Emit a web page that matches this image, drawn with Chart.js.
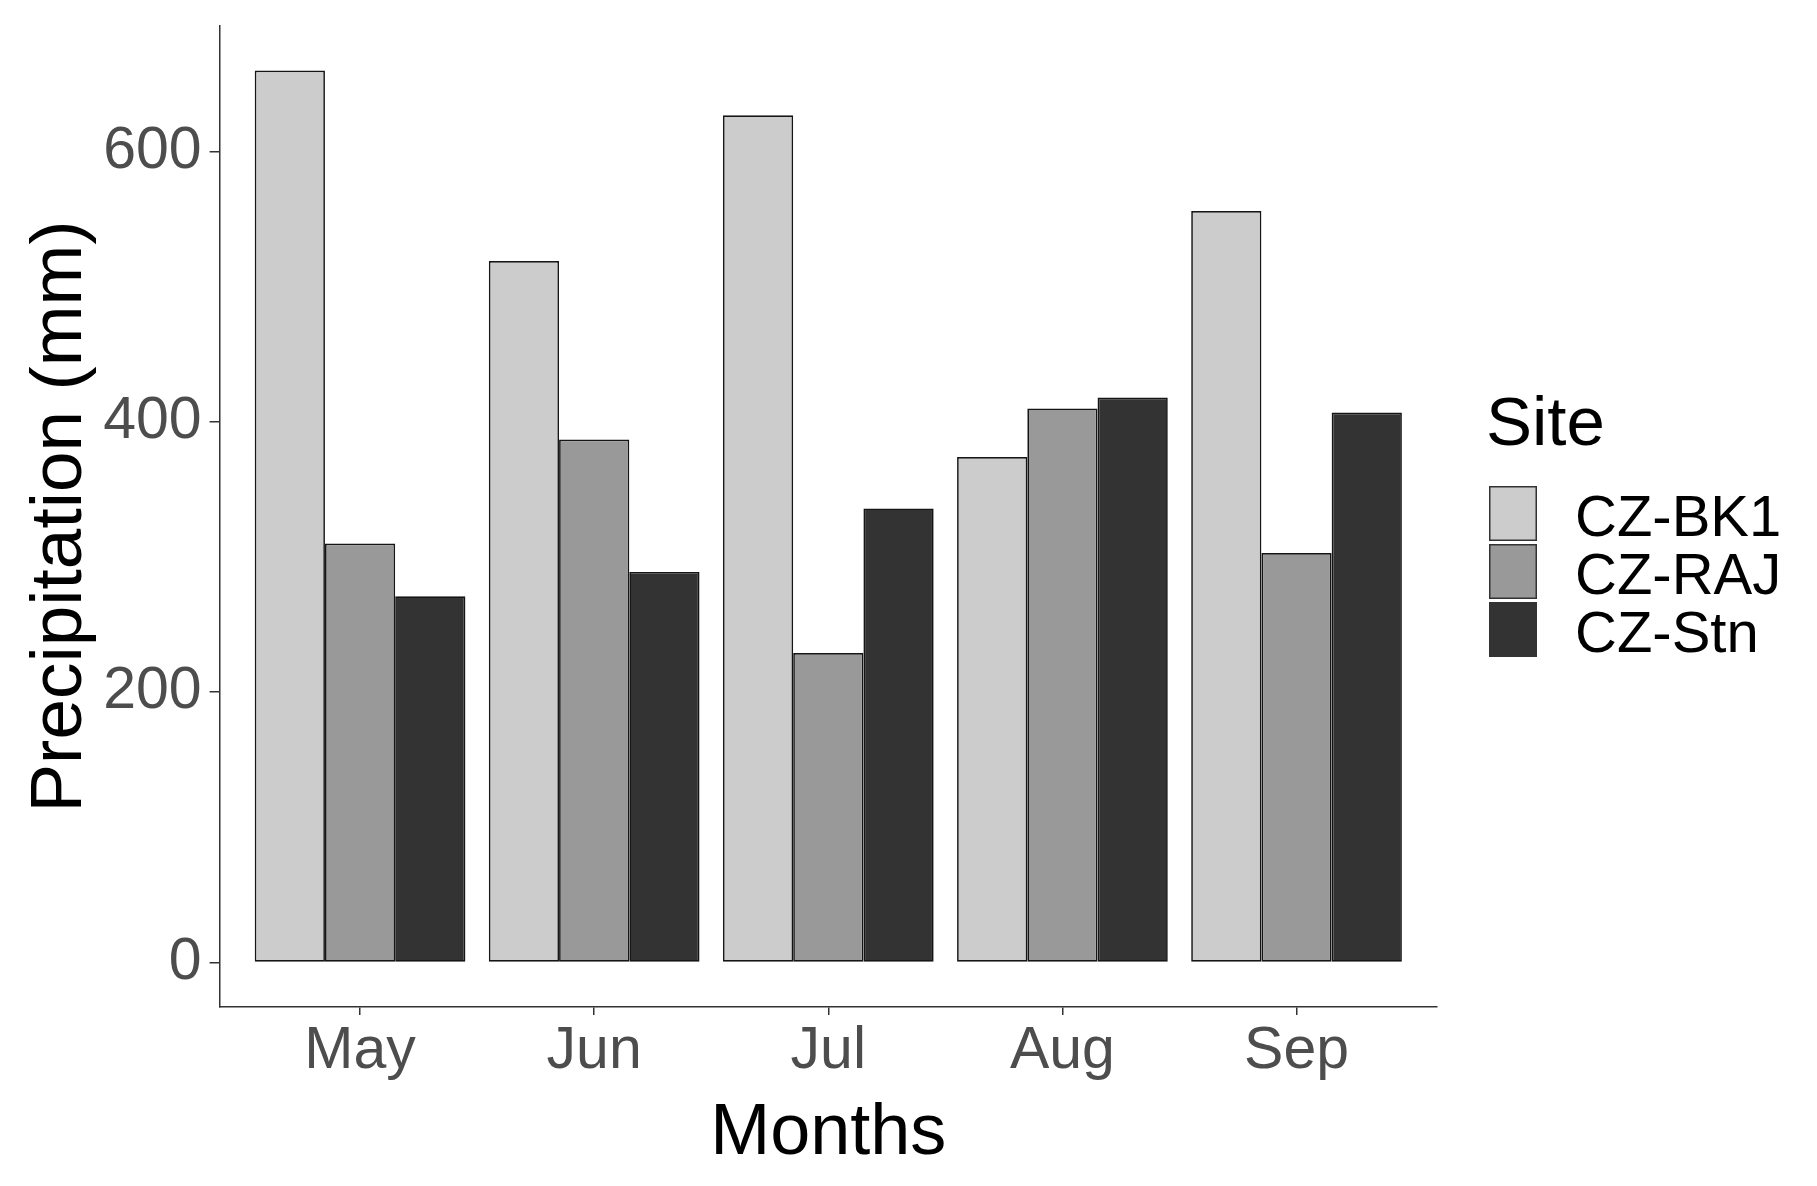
<!DOCTYPE html>
<html>
    <head>
        <meta charset="UTF-8" />
        <title> Precipitation </title>
        <style type="text/css">
            body { margin: 0; background: #ffffff; }
            .chartBox { width: 1817px; height: 1186px; }
        </style>
    </head>
    <body>
        <div class="chartBox">
            <canvas id="myChart" width="1817" height="1186"></canvas>
        </div>

        <script src="https://cdn.jsdelivr.net/npm/chart.js"></script>

        <script>
        // data
        const months = ['May', 'Jun', 'Jul', 'Aug', 'Sep'];
        const sites = ['CZ-BK1', 'CZ-RAJ', 'CZ-Stn'];
        const bk1 = [660, 519, 627, 374, 556];
        const raj = [310, 387, 229, 410, 303];
        const stn = [271, 289, 336, 418, 407];
        const yTicks = [0, 200, 400, 600];
        const siteColors = ['#cccccc', '#999999', '#333333'];

        const FONT = '"Liberation Sans", Arial, sans-serif';

        const toPoints = vals => vals.map((v, i) => ({ x: i + 1, y: v }));

        //setup
        const data = {
            datasets: [bk1, raj, stn].map((vals, i) => ({
                label: sites[i],
                data: toPoints(vals),
                backgroundColor: siteColors[i],
                borderColor: '#151515',
                borderWidth: 1.7,
                borderSkipped: false,
                categoryPercentage: 0.9,
                barPercentage: 1.0
            }))
        };

        // legend drawn by hand, ggplot style
        const siteLegend = {
            id: 'siteLegend',
            afterDraw(chart) {
                const ctx = chart.ctx;
                ctx.save();
                ctx.textAlign = 'left';
                ctx.textBaseline = 'alphabetic';
                ctx.fillStyle = '#000000';
                ctx.font = '69px ' + FONT;
                ctx.fillText('Site', 1486, 445);
                ctx.font = '58px ' + FONT;
                chart.data.datasets.forEach((ds, i) => {
                    const top = 486 + i * 58;
                    ctx.fillStyle = ds.backgroundColor;
                    ctx.fillRect(1489, top, 48, 55);
                    ctx.strokeStyle = '#333333';
                    ctx.lineWidth = 1.5;
                    ctx.strokeRect(1489.75, top + 0.75, 46.5, 53.5);
                    ctx.fillStyle = '#000000';
                    ctx.fillText(ds.label, 1575, top + 50);
                });
                ctx.restore();
            }
        };

        //config
        const config = {
            type: 'bar',
            data,
            plugins: [siteLegend],
            options: {
                responsive: false,
                animation: false,
                devicePixelRatio: 1,
                layout: { padding: { left: 10, right: 380, top: 26, bottom: 0 } },
                plugins: {
                    legend: { display: false },
                    tooltip: { enabled: false }
                },
                scales: {
                    x: {
                        type: 'linear',
                        min: 0.4,
                        max: 5.6,
                        offset: false,
                        afterBuildTicks: s => { s.ticks = months.map((m, i) => ({ value: i + 1 })); },
                        afterFit: s => { s.height = 179; s.paddingLeft = 0; s.paddingRight = 0; },
                        ticks: {
                            callback: v => months[v - 1],
                            color: '#4d4d4d',
                            font: { family: FONT, size: 59 },
                            padding: 1,
                            maxRotation: 0,
                            autoSkip: false
                        },
                        grid: { display: true, offset: false, drawOnChartArea: false, tickLength: 8, color: '#333333', lineWidth: 1.5 },
                        border: { display: true, color: '#333333', width: 1.5 },
                        title: {
                            display: true,
                            text: 'Months',
                            color: '#000000',
                            font: { family: FONT, size: 72 },
                            padding: { top: 0, bottom: 9 }
                        }
                    },
                    y: {
                        min: -33,
                        max: 693,
                        afterBuildTicks: s => { s.ticks = yTicks.map(v => ({ value: v })); },
                        afterFit: s => { s.width = 209.6; s.paddingTop = 0; s.paddingBottom = 0; },
                        ticks: {
                            color: '#4d4d4d',
                            font: { family: FONT, size: 59 },
                            padding: 8
                        },
                        grid: { display: true, drawOnChartArea: false, tickLength: 10, color: '#333333', lineWidth: 1.5 },
                        border: { display: true, color: '#333333', width: 1.5 },
                        title: {
                            display: true,
                            text: 'Precipitation (mm)',
                            color: '#000000',
                            font: { family: FONT, size: 73 },
                            padding: { top: 7, bottom: 0 }
                        }
                    }
                }
            }
        };

        //render init
        const myChart = new Chart(
            document.getElementById('myChart'),
            config
        );
        </script>
    </body>
</html>
